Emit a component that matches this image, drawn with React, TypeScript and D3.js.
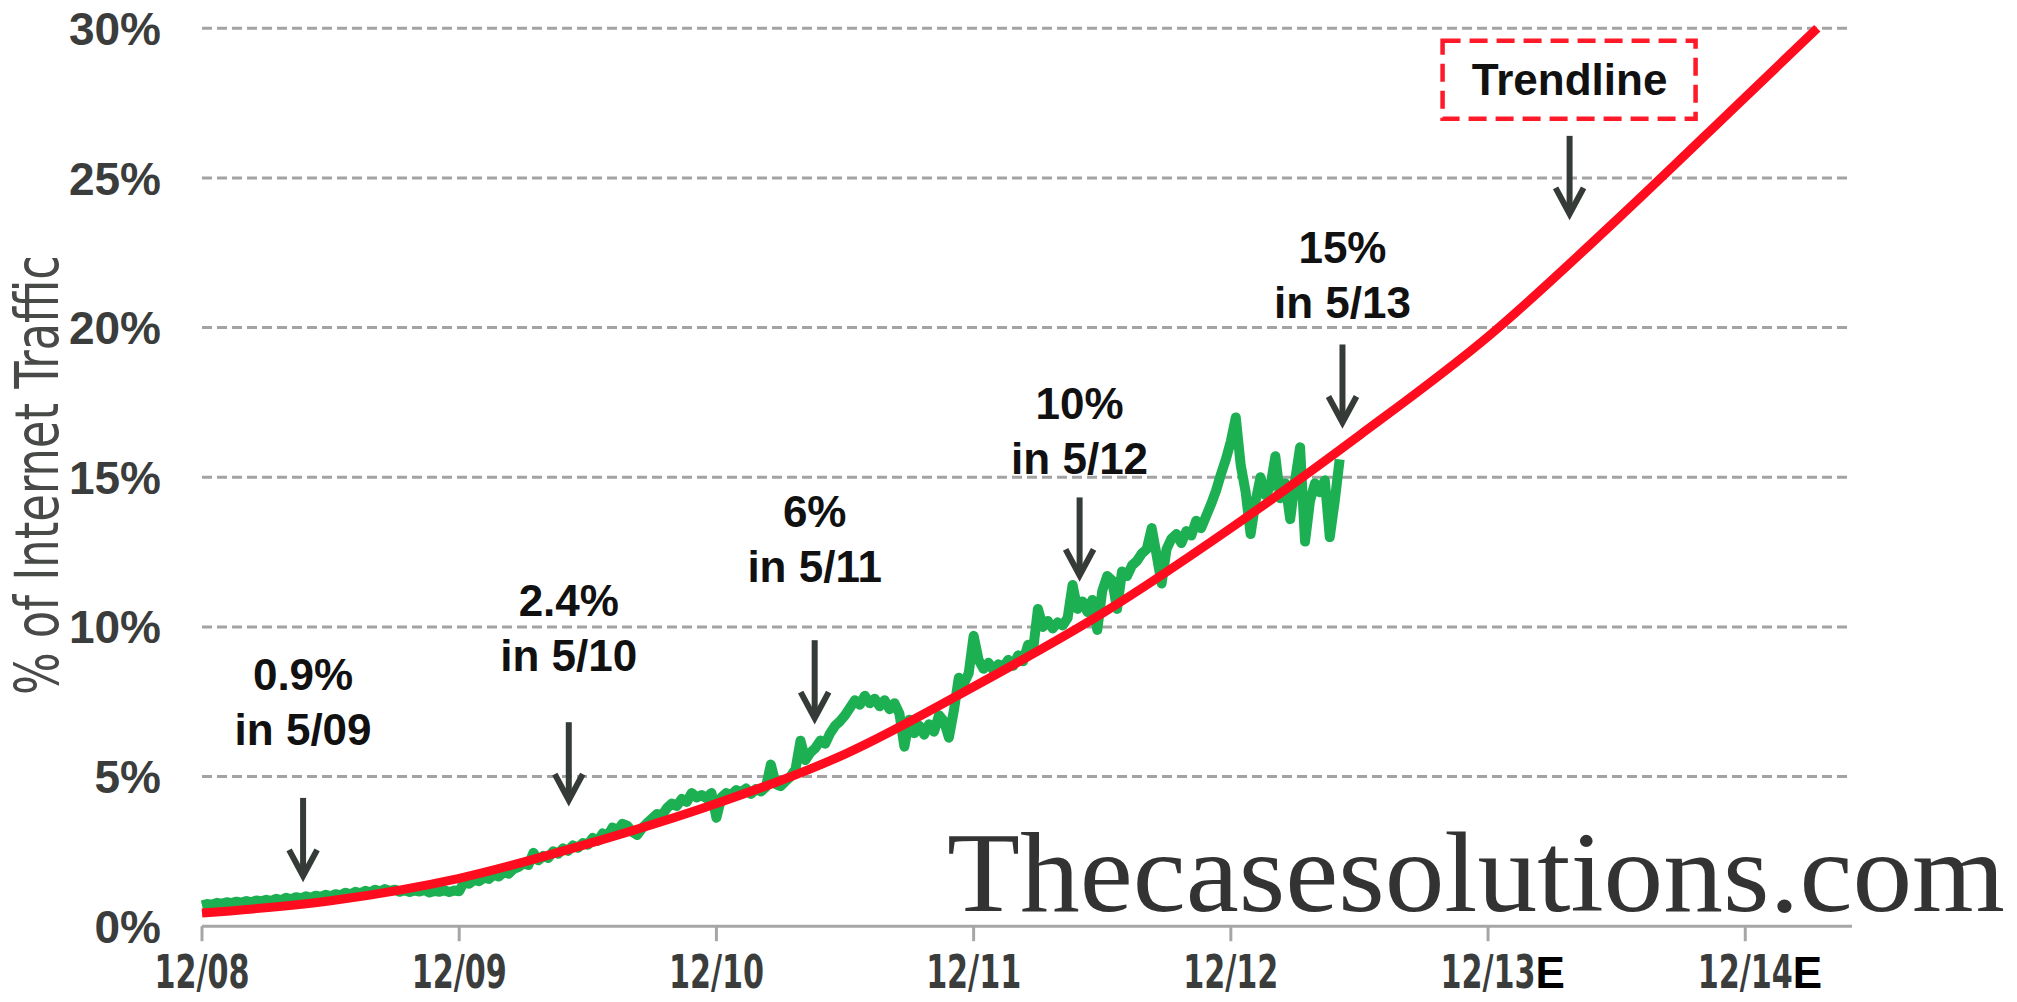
import React from "react";
import * as d3 from "d3";

const width = 2017;
const height = 1002;

// x positions are years after 12/08
const xTickYears = [0, 1, 2, 3, 4, 5, 6];
const xTickLabels = ["12/08", "12/09", "12/10", "12/11", "12/12", "12/13", "12/14"];
const xTickSuffix = ["", "", "", "", "", "E", "E"];
const yTicks = [0, 5, 10, 15, 20, 25, 30];

// red trendline
const trendYears = [0, 0.5, 1, 1.5, 2, 2.5, 3, 3.5, 4, 4.5, 5, 5.5, 6, 6.28];
const trendShare = [0.44, 0.85, 1.6, 2.75, 4.1, 5.75, 8.0, 10.45, 13.3, 16.4, 19.7, 23.6, 27.7, 30];

// green series, one value a week from 12/08 to 5/13
const weeksPerYear = 52;
const weeklyShare = [
  0.70, 0.74, 0.72, 0.78, 0.75, 0.80, 0.77, 0.82, 0.79, 0.84, 0.80, 0.86, 0.83,
  0.88, 0.84, 0.92, 0.87, 0.95, 0.90, 0.97, 0.93, 1.00, 0.95, 1.02, 0.98, 1.05,
  1.00, 1.07, 1.03, 1.12, 1.06, 1.15, 1.10, 1.18, 1.13, 1.22, 1.16, 1.24, 1.18,
  1.22, 1.15, 1.20, 1.14, 1.19, 1.16, 1.21, 1.13, 1.18, 1.15, 1.20, 1.14, 1.19,
  1.17, 1.48, 1.42, 1.55, 1.50, 1.62, 1.58, 1.72, 1.66, 1.80, 1.75, 1.92, 1.98,
  2.10, 2.05, 2.45, 2.20, 2.35, 2.28, 2.50, 2.42, 2.60, 2.52, 2.70, 2.62, 2.78,
  2.72, 2.95, 2.85, 3.10, 3.02, 3.30, 3.20, 3.42, 3.35, 3.15, 3.05, 3.28, 3.45,
  3.60, 3.75, 3.70, 3.95, 4.10, 4.02, 4.25, 4.15, 4.45, 4.30, 4.38, 4.28, 4.45,
  3.62, 4.30, 4.45, 4.38, 4.55, 4.48, 4.60, 4.42, 4.58, 4.50, 4.65, 5.40, 4.75,
  4.68, 4.85, 5.00, 5.25, 6.20, 5.55, 5.80, 5.95, 6.20, 6.10, 6.45, 6.70, 6.85,
  7.05, 7.30, 7.55, 7.40, 7.70, 7.45, 7.60, 7.35, 7.55, 7.25, 7.45, 7.10, 6.00,
  6.90, 6.45, 6.70, 6.40, 6.75, 6.50, 7.05, 6.85, 6.30, 7.20, 8.30, 8.10, 8.45,
  9.70, 8.90, 8.60, 8.80, 8.55, 8.75, 8.65, 8.90, 8.70, 9.05, 8.85, 9.40, 9.20,
  10.60, 10.00, 10.20, 9.95, 10.15, 10.05, 10.30, 11.40, 10.60, 10.85, 10.50, 10.90, 9.90,
  11.20, 11.70, 11.55, 10.60, 11.85, 11.70, 12.05, 12.20, 12.45, 12.60, 13.30, 12.40, 11.45,
  12.60, 12.95, 13.10, 12.80, 13.20, 13.05, 13.55, 13.30, 13.70, 14.10, 14.55, 15.10, 15.60,
  16.20, 17.00, 15.40, 14.50, 13.10, 14.20, 15.00, 14.40, 14.70, 15.70, 14.30, 14.80, 13.60,
  14.90, 16.00, 12.85, 14.20, 14.80, 14.50, 14.90, 13.00, 14.20, 15.60,
];

const calloutShare = ["0.9%", "2.4%", "6%", "10%", "15%"];
const calloutMonth = ["in 5/09", "in 5/10", "in 5/11", "in 5/12", "in 5/13"];

// arrow placement: year it points at, share at the arrow tip, text gap above arrow
const arrowYears = [0.393, 1.426, 2.382, 3.412, 4.434, 5.317];
const arrowTipShare = [1.68, 4.21, 6.95, 11.72, 16.83, 23.8];
const textGap = [53, 51, 58, 23, 26];

const arrowLen = 78;
const lineStep = 55;
const labelW = 95;

const boldFont = "'Liberation Sans', Arial, sans-serif";
const narrowFont = "'Liberation Sans Narrow', 'Arial Narrow', 'DejaVu Sans Condensed', sans-serif";

const Arrow = ({x, tip}: {x: number, tip: number}) => (
  <g stroke="#353b37" strokeWidth={6} fill="none">
    <line x1={x} x2={x} y1={tip - arrowLen} y2={tip - 3} />
    <polyline points={`${x - 14},${tip - 26} ${x},${tip} ${x + 14},${tip - 26}`} strokeLinejoin="miter" />
  </g>
);

export default function App() {
  const x = d3.scaleLinear().domain([0, 6.415]).range([202, 1852]);
  const y = d3.scaleLinear().domain([0, 30]).range([926.2, 28.3]);

  const greenLine = d3.line<number>()
    .x((d, i) => x(i / weeksPerYear))
    .y(d => y(d));

  const trendLine = d3.line<number>()
    .x((d, i) => x(trendYears[i]))
    .y(d => y(d))
    .curve(d3.curveMonotoneX);

  const [x0, x1] = x.range();
  const trendArrowX = x(arrowYears[5]);
  const trendArrowTop = y(arrowTipShare[5]) - arrowLen;

  return (
    <svg width={width} height={height} style={{position: "absolute", left: 0, top: 0, background: "#fff"}}>
      {/* dashed gridlines */}
      {yTicks.filter(v => v > 0).map(v => (
        <line key={v} x1={x0} x2={x1} y1={y(v)} y2={y(v)}
          stroke="#a3a3a3" strokeWidth={3} strokeDasharray="10 5" />
      ))}

      {/* y labels */}
      {yTicks.map(v => (
        <text key={v} x={161} y={y(v)} dy="0.36em" textAnchor="end"
          fontFamily={boldFont} fontWeight="bold" fontSize={46} fill="#3a3d3b">
          {v}%
        </text>
      ))}

      <text transform="translate(58,475) rotate(-90)" textAnchor="middle"
        fontFamily={narrowFont} fontSize={60} fill="#484a48" textLength={440} lengthAdjust="spacingAndGlyphs">
        % of Internet Traffic
      </text>

      {/* x axis */}
      <line x1={x0} x2={x1} y1={y(0)} y2={y(0)} stroke="#a6a6a6" strokeWidth={3} />
      {xTickYears.map((t, i) => (
        <g key={t}>
          <line x1={x(t)} x2={x(t)} y1={y(0)} y2={y(0) + 15} stroke="#a6a6a6" strokeWidth={3} />
          <text x={x(t) - labelW / 2} y={988} fontFamily={narrowFont} fontWeight="bold"
            fontSize={46} fill="#3a3d3b">
            <tspan textLength={labelW} lengthAdjust="spacingAndGlyphs">{xTickLabels[i]}</tspan>
            {xTickSuffix[i] && (
              <tspan fontFamily={boldFont} fontSize={44} fill="#000">{xTickSuffix[i]}</tspan>
            )}
          </text>
        </g>
      ))}

      {/* series */}
      <path d={greenLine(weeklyShare) || ""} fill="none" stroke="#1db052" strokeWidth={10} strokeLinejoin="round" />
      <path d={trendLine(trendShare) || ""} fill="none" stroke="#ff0c1e" strokeWidth={9} strokeLinecap="butt" />

      {/* callouts */}
      {calloutShare.map((s, i) => {
        const ax = x(arrowYears[i]);
        const tip = y(arrowTipShare[i]);
        const base = tip - arrowLen - textGap[i];
        return (
          <g key={s}>
            <Arrow x={ax} tip={tip} />
            <text textAnchor="middle" fontFamily={boldFont} fontWeight="bold" fontSize={44} fill="#111">
              <tspan x={ax} y={base - lineStep}>{s}</tspan>
              <tspan x={ax} y={base}>{calloutMonth[i]}</tspan>
            </text>
          </g>
        );
      })}

      {/* trendline label */}
      <Arrow x={trendArrowX} tip={y(arrowTipShare[5])} />
      <rect x={trendArrowX - 127} y={trendArrowTop - 95} width={253} height={78}
        fill="none" stroke="#ff1a2a" strokeWidth={4.5} strokeDasharray="18 9" />
      <text x={trendArrowX} y={trendArrowTop - 41} textAnchor="middle" fontFamily={boldFont}
        fontWeight="bold" fontSize={44} fill="#111">Trendline</text>

      {/* watermark */}
      <text x={947} y={911} fontFamily="'Liberation Serif', 'DejaVu Serif', serif" fontSize={114}
        fill="#333" textLength={1058} lengthAdjust="spacingAndGlyphs">Thecasesolutions.com</text>
    </svg>
  );
}
